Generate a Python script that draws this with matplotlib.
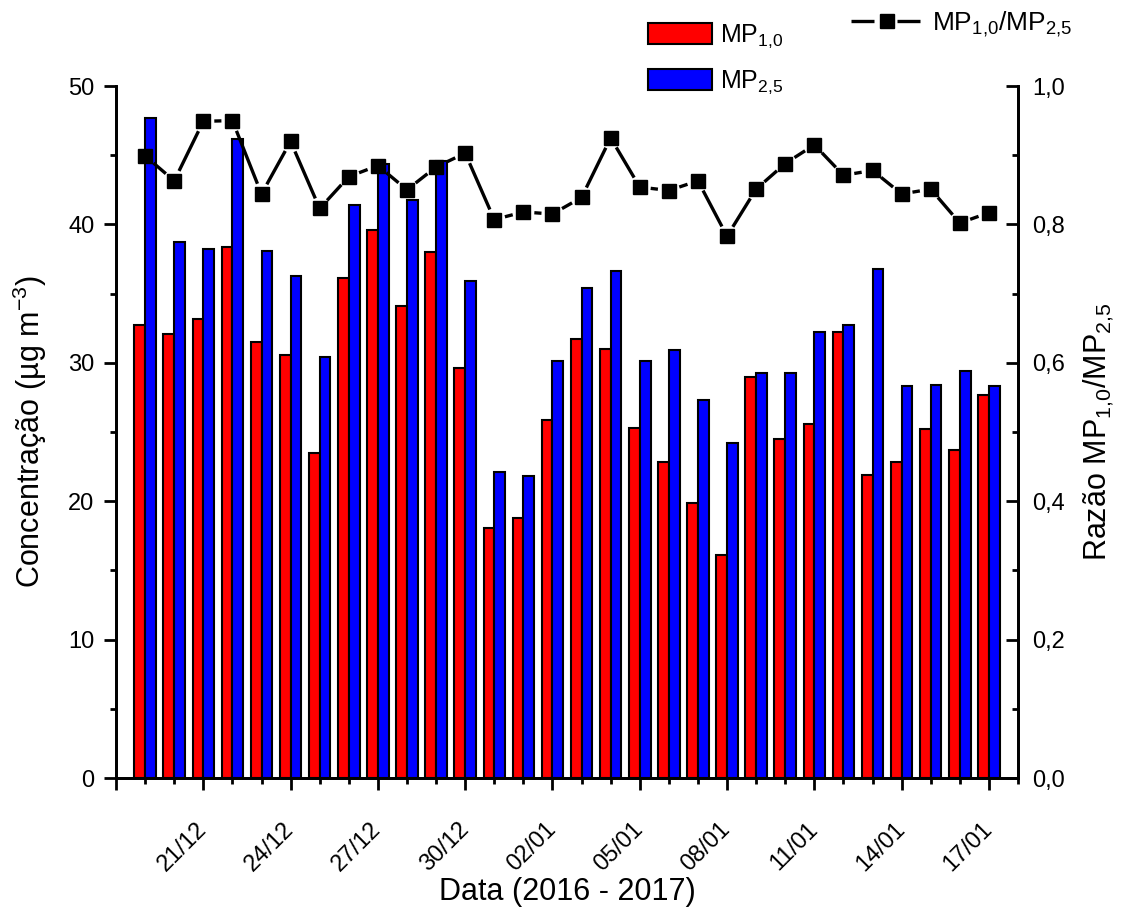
import numpy as np
import matplotlib.pyplot as plt
from matplotlib.patches import Patch
from matplotlib.lines import Line2D
from matplotlib.ticker import MultipleLocator, FuncFormatter

plt.rcParams['font.family'] = ['Liberation Sans', 'DejaVu Sans']
plt.rcParams['mathtext.fontset'] = 'custom'
plt.rcParams['mathtext.rm'] = 'Liberation Sans'
plt.rcParams['mathtext.it'] = 'Liberation Sans:italic'
plt.rcParams['mathtext.bf'] = 'Liberation Sans:bold'

# Dias de 19/12/2016 a 17/01/2017
dates = ['19/12', '20/12', '21/12', '22/12', '23/12', '24/12', '25/12', '26/12',
         '27/12', '28/12', '29/12', '30/12', '31/12', '01/01', '02/01', '03/01',
         '04/01', '05/01', '06/01', '07/01', '08/01', '09/01', '10/01', '11/01',
         '12/01', '13/01', '14/01', '15/01', '16/01', '17/01']

mp10 = [32.7, 32.1, 33.2, 38.4, 31.5, 30.6, 23.5, 36.1, 39.6, 34.1,
        38.0, 29.6, 18.1, 18.8, 25.9, 31.7, 31.0, 25.3, 22.8, 19.9,
        16.1, 29.0, 24.5, 25.6, 32.2, 21.9, 22.8, 25.2, 23.7, 27.7]

mp25 = [47.7, 38.7, 38.2, 46.2, 38.1, 36.3, 30.4, 41.4, 44.4, 41.8,
        44.6, 35.9, 22.1, 21.8, 30.1, 35.4, 36.6, 30.1, 30.9, 27.3,
        24.2, 29.3, 29.3, 32.2, 32.7, 36.8, 28.3, 28.4, 29.4, 28.3]

ratio = [0.899, 0.863, 0.949, 0.950, 0.844, 0.920, 0.823, 0.869, 0.885, 0.850,
         0.883, 0.903, 0.807, 0.818, 0.815, 0.839, 0.925, 0.854, 0.849, 0.863,
         0.783, 0.851, 0.888, 0.915, 0.871, 0.878, 0.844, 0.851, 0.802, 0.817]

x = np.arange(1, len(dates) + 1)
w = 0.37

fig = plt.figure(figsize=(11.33, 9.15), dpi=100)
ax = fig.add_axes([0.1024, 0.1497, 0.7961, 0.7563])
ax2 = ax.twinx()

ax.bar(x - w / 2, mp10, w, color='#ff0000', edgecolor='black', linewidth=1.5, zorder=2)
ax.bar(x + w / 2, mp25, w, color='#0000ff', edgecolor='black', linewidth=1.5, zorder=2)

ax.set_xlim(0, 31)
ax.set_ylim(0, 50)
ax2.set_ylim(0, 1.0)

# linha com intervalo em volta de cada marcador (estilo Origin)
gap = 11  # px
pts = ax2.transData.transform(np.column_stack([x, ratio]))
inv = ax2.transData.inverted()
for p0, p1 in zip(pts[:-1], pts[1:]):
    d = p1 - p0
    L = np.hypot(*d)
    if L <= 2 * gap:
        continue
    u = d / L
    seg = inv.transform(np.array([p0 + u * gap, p1 - u * gap]))
    ax2.plot(seg[:, 0], seg[:, 1], color='black', lw=2.4, solid_capstyle='butt')
ax2.plot(x, ratio, ls='none', marker='s', markersize=10.5,
         markerfacecolor='black', markeredgecolor='black')

# eixo x: marcas a cada 3 dias, rotulo da primeira omitido
major_pos = np.arange(0, 31, 3)
major_lab = [''] + [dates[p - 1] for p in major_pos[1:]]
ax.set_xticks(major_pos)
ax.set_xticklabels(major_lab, rotation=45, ha='right', va='center',
                   rotation_mode='anchor')
ax.xaxis.set_minor_locator(MultipleLocator(1))

ax.yaxis.set_major_locator(MultipleLocator(10))
ax.yaxis.set_minor_locator(MultipleLocator(5))
ax2.yaxis.set_major_locator(MultipleLocator(0.2))
ax2.yaxis.set_minor_locator(MultipleLocator(0.1))
ax2.yaxis.set_major_formatter(FuncFormatter(lambda v, p: f'{v:.1f}'.replace('.', ',')))

for a in (ax, ax2):
    a.spines['top'].set_visible(False)
    for s in a.spines.values():
        s.set_linewidth(2.0)
    a.tick_params(which='major', length=8.6, width=2.0, labelsize=17)
    a.tick_params(which='minor', length=4.3, width=2.0)
ax.tick_params(which='both', direction='out')
ax.tick_params(axis='y', which='major', pad=7)
ax.tick_params(axis='x', which='major', pad=26)
ax2.tick_params(which='both', direction='in')
ax2.tick_params(axis='y', which='major', pad=10)

ax.set_xlabel('Data (2016 - 2017)', fontsize=22, labelpad=1)
ax.set_ylabel('Concentração (µg m$^{-3}$)', fontsize=22, labelpad=14)
ax2.set_ylabel('Razão MP$_{1{,}0}$/MP$_{2{,}5}$', fontsize=22, labelpad=12)

h_bars = [Patch(facecolor='#ff0000', edgecolor='black', linewidth=1.5, label='MP$_{1{,}0}$'),
          Patch(facecolor='#0000ff', edgecolor='black', linewidth=1.5, label='MP$_{2{,}5}$')]
fig.legend(handles=h_bars, loc='upper left', bbox_to_anchor=(0.572, 0.975),
           frameon=False, fontsize=18, handlelength=2.56, handleheight=0.92,
           handletextpad=0.32, labelspacing=0.73, borderpad=0, borderaxespad=0)

h_line = [Line2D([0], [0], color='black', lw=2.4, ls=(0, (6.9, 6.9)), marker='s',
                 markersize=10.5, label='MP$_{1{,}0}$/MP$_{2{,}5}$')]
fig.legend(handles=h_line, loc='upper left', bbox_to_anchor=(0.751, 0.99),
           frameon=False, fontsize=19, handlelength=2.73, handletextpad=0.34,
           borderpad=0, borderaxespad=0)

fig.savefig('out.png', dpi=100)
